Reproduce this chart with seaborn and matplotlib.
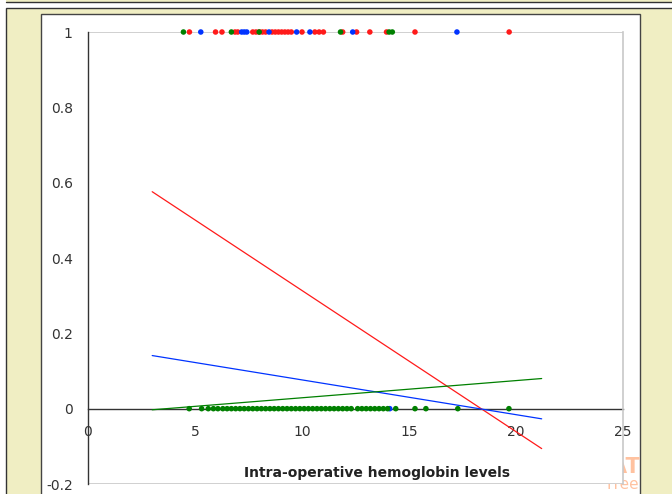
import numpy as np
import pandas as pd
import matplotlib
matplotlib.use("Agg")
import matplotlib.pyplot as plt
from matplotlib.patches import Rectangle
from matplotlib.lines import Line2D
import seaborn as sns

# observed points at y = 1
red_top = [4.74, 5.96, 6.26, 6.87, 7.0, 7.7, 7.85, 8.0, 8.15, 8.3, 8.6, 8.75, 8.9, 9.05,
           9.2, 9.35, 9.5, 10.0, 10.6, 10.8, 11.0, 11.9, 12.55, 13.17, 13.95, 15.28, 19.68]
blue_top = [5.27, 7.18, 7.3, 7.42, 8.46, 9.75, 10.37, 12.37, 17.24]
green_top = [4.46, 6.7, 8.0, 11.8, 14.07, 14.22]

# observed points at y = 0
green_bottom = [4.73, 5.31, 5.62, 5.86, 6.07, 6.3, 6.5, 6.7, 6.9, 7.1, 7.3, 7.5, 7.7, 7.9,
                8.1, 8.3, 8.5, 8.7, 8.9, 9.1, 9.3, 9.5, 9.7, 9.9, 10.1, 10.3, 10.5, 10.7,
                10.9, 11.1, 11.3, 11.5, 11.7, 11.9, 12.1, 12.3, 12.6, 12.8, 13.0, 13.2,
                13.4, 13.6, 13.8, 14.0, 14.38, 15.28, 15.79, 17.28, 19.67]
blue_bottom = [14.1]

# linear trend lines
fit_x = [3.0, 21.2]
red_fit = [0.576, -0.106]
blue_fit = [0.141, -0.027]
green_fit = [-0.003, 0.080]

x_ticks = [0, 5, 10, 15, 20, 25]
y_ticks = [-0.2, 0, 0.2, 0.4, 0.6, 0.8, 1]
y_labels = ["-0.2", "0", "0.2", "0.4", "0.6", "0.8", "1"]
xlabel = "Intra-operative hemoglobin levels"

RED = "#FF1A1A"
BLUE = "#0033FF"
GREEN = "#008000"
BEIGE = "#F0EEC3"
W, H = 672, 494

sns.set_style("white")
plt.rcParams["font.family"] = ["DejaVu Sans"]

fig = plt.figure(figsize=(W / 100, H / 100), dpi=100, facecolor="white")


def fx(px):
    return px / W


def fy(py):
    return 1 - py / H


# upper strip and the beige panel
fig.add_artist(Rectangle((fx(6), fy(2)), fx(672 - 6), 2 / H, transform=fig.transFigure,
                         facecolor=BEIGE, edgecolor="none", zorder=-5))
fig.add_artist(Line2D([fx(6), 1], [fy(2), fy(2)], transform=fig.transFigure,
                      color="#333333", lw=1, zorder=-4))
fig.add_artist(Rectangle((fx(6), fy(494) - 0.01), fx(672 - 6) + 0.01, (494 - 8) / H + 0.01,
                         transform=fig.transFigure, facecolor=BEIGE,
                         edgecolor="#333333", lw=1, zorder=-5))
fig.add_artist(Rectangle((fx(41), fy(494) - 0.01), fx(640 - 41), (494 - 14) / H + 0.01,
                         transform=fig.transFigure, facecolor="white",
                         edgecolor="#444444", lw=1, zorder=-4))

# watermark under the plot area
fig.text(fx(640), fy(467), "XLSTAT", ha="right", va="center", fontsize=15,
         fontweight="bold", color="#FFC2A0", zorder=-3)
fig.text(fx(639), fy(492), "Free", ha="right", va="bottom", fontsize=11,
         color="#FFC2A0", zorder=-3)

ax = fig.add_axes([fx(88), fy(484), fx(623 - 88), (484 - 32) / H])
ax.set_facecolor("white")

top = pd.concat([
    pd.DataFrame({"x": red_top, "y": 1, "g": "red"}),
    pd.DataFrame({"x": blue_top, "y": 1, "g": "blue"}),
    pd.DataFrame({"x": green_top, "y": 1, "g": "green"}),
])
bottom = pd.concat([
    pd.DataFrame({"x": blue_bottom, "y": 0, "g": "blue"}),
    pd.DataFrame({"x": green_bottom, "y": 0, "g": "green"}),
])
pal = {"red": RED, "blue": BLUE, "green": GREEN}

sns.lineplot(x=fit_x, y=red_fit, color=RED, lw=0.9, ax=ax, zorder=3)
sns.lineplot(x=fit_x, y=blue_fit, color=BLUE, lw=0.9, ax=ax, zorder=3)
sns.lineplot(x=fit_x, y=green_fit, color=GREEN, lw=0.9, ax=ax, zorder=3)

sns.scatterplot(data=top, x="x", y="y", hue="g", palette=pal, s=16, linewidth=0,
                legend=False, ax=ax, zorder=4, clip_on=False)
sns.scatterplot(data=bottom, x="x", y="y", hue="g", palette=pal, s=16, linewidth=0,
                legend=False, ax=ax, zorder=4, clip_on=False)

ax.set_xlim(0, 25)
ax.set_ylim(-0.2, 1)
ax.axhline(-0.2, color="#C8C8C8", lw=1.2, zorder=1)
ax.axhline(1, color="#C8C8C8", lw=1.2, zorder=1)

ax.spines["top"].set_visible(False)
ax.spines["right"].set_color("#C8C8C8")
ax.spines["right"].set_linewidth(1.2)
ax.spines["left"].set_color("#333333")
ax.spines["left"].set_linewidth(1)
ax.spines["bottom"].set_position(("data", 0))
ax.spines["bottom"].set_color("#333333")
ax.spines["bottom"].set_linewidth(1)
ax.spines["bottom"].set_zorder(2)

ax.set_xticks(x_ticks)
ax.set_xticklabels([str(t) for t in x_ticks])
ax.set_yticks(y_ticks)
ax.set_yticklabels(y_labels)
ax.tick_params(axis="both", direction="inout", length=8, width=1, color="#333333",
               labelsize=10, labelcolor="#333333")
ax.tick_params(axis="x", pad=8)
ax.tick_params(axis="y", pad=7)
ax.set_xlabel("")
ax.set_ylabel("")
ax.grid(False)

ax.text(13.5, -0.17, xlabel, ha="center", va="center", fontsize=10,
        fontweight="bold", color="#222222")

fig.savefig("out.png", dpi=100, facecolor=fig.get_facecolor())
